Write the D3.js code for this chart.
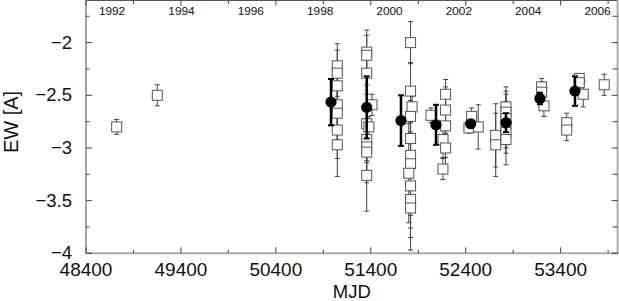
<!DOCTYPE html>
<html>
<head>
<meta charset="utf-8">
<script src="https://cdn.jsdelivr.net/npm/d3@7"></script>
<style>
  html, body { margin: 0; padding: 0; background: #fff; }
  svg { display: block; font-family: "Liberation Sans", Arial, Helvetica, sans-serif; }
</style>
</head>
<body>
<svg id="chart" width="619" height="301"></svg>
<script>
// ---- data ----
// individual measurements (open squares): MJD, EW, error
const sqMJD = [48723, 49151,
  51047, 51047, 51047, 51047, 51047, 51047, 51047,
  51357, 51357, 51357, 51413, 51357, 51380, 51357, 51357, 51357, 51357,
  51819, 51819, 51835, 51819, 51819, 51819, 51819, 51800, 51819, 51819, 51819,
  52034,
  52188, 52188, 52188, 52161, 52188, 52160,
  52462, 52434, 52532,
  52716, 52716,
  52824, 52824, 52824, 52824, 52824, 52824,
  53200, 53200, 53224,
  53464, 53464,
  53596, 53596, 53638,
  53859];
const sqEW = [-2.80, -2.50,
  -2.22, -2.29, -2.41, -2.59, -2.67, -2.83, -2.97,
  -2.09, -2.12, -2.29, -2.59, -2.77, -2.80, -2.92, -2.99, -3.04, -3.26,
  -2.00, -2.46, -2.61, -2.70, -2.91, -3.07, -3.15, -3.24, -3.36, -3.49, -3.57,
  -2.69,
  -2.49, -2.64, -2.79, -2.92, -3.00, -3.20,
  -2.70, -2.81, -2.80,
  -2.88, -2.97,
  -2.61, -2.66, -2.72, -2.78, -2.85, -2.92,
  -2.42, -2.47, -2.60,
  -2.76, -2.83,
  -2.34, -2.38, -2.49,
  -2.40];
const sqErr = [0.07, 0.10,
  0.21, 0.22, 0.15, 0.20, 0.25, 0.27, 0.30,
  0.21, 0.19, 0.20, 0.10, 0.37, 0.10, 0.20, 0.34, 0.20, 0.34,
  0.20, 0.27, 0.10, 0.15, 0.15, 0.20, 0.49, 0.47, 0.40, 0.36, 0.40,
  0.07,
  0.14, 0.22, 0.30, 0.17, 0.20, 0.10,
  0.08, 0.05, 0.21,
  0.30, 0.30,
  0.19, 0.20, 0.23, 0.22, 0.20, 0.24,
  0.08, 0.10, 0.10,
  0.09, 0.10,
  0.04, 0.05, 0.12,
  0.10];

// seasonal means (filled circles): MJD, EW, error
const meanMJD = [50981, 51357, 51718, 52087, 52452, 52824, 53182, 53551];
const meanEW  = [-2.565, -2.615, -2.74, -2.78, -2.77, -2.76, -2.53, -2.46];
const meanErr = [0.22, 0.295, 0.24, 0.19, 0.02, 0.09, 0.055, 0.14];

// axis ticks
const xMajorTicks = [48400, 49400, 50400, 51400, 52400, 53400];
const xMinorTicks = [48900, 49900, 50900, 51900, 52900, 53900];
const yMajorTicks = [-4, -3.5, -3, -2.5, -2];
const yMinorTicks = [-3.75, -3.25, -2.75, -2.25, -1.75];
const yearLabels = ["1992", "1994", "1996", "1998", "2000", "2002", "2004", "2006"];
const yearMJD    = [48622, 49353, 50083, 50814, 51544, 52275, 53005, 53736];

// ---- layout ----
const L = 86, R = 617.6, T = 0.5, B = 253.3;
const svg = d3.select("#chart");
const x = d3.scaleLinear().domain([48400, 54000]).range([L, R]);
const y = d3.scaleLinear().domain([-4, -1.6]).range([B, T]);

const fmt = v => String(v).replace("-", "\u2212");

// frame
svg.append("line").attr("x1", L).attr("x2", L).attr("y1", T).attr("y2", B).attr("stroke", "#444").attr("stroke-width", 1);
svg.append("line").attr("x1", L).attr("x2", R).attr("y1", T).attr("y2", T).attr("stroke", "#555").attr("stroke-width", 1);
svg.append("line").attr("x1", L).attr("x2", R + 1).attr("y1", B).attr("y2", B).attr("stroke", "#aaa").attr("stroke-width", 2);
svg.append("line").attr("x1", R).attr("x2", R).attr("y1", T).attr("y2", B).attr("stroke", "#aaa").attr("stroke-width", 2);

// ticks
const tk = svg.append("g").attr("stroke", "#444").attr("stroke-width", 1);
xMajorTicks.forEach(v => {
  tk.append("line").attr("x1", x(v)).attr("x2", x(v)).attr("y1", B).attr("y2", B - 6);
  tk.append("line").attr("x1", x(v)).attr("x2", x(v)).attr("y1", T).attr("y2", T + 5);
});
xMinorTicks.forEach(v => {
  tk.append("line").attr("x1", x(v)).attr("x2", x(v)).attr("y1", B).attr("y2", B - 3.5);
  tk.append("line").attr("x1", x(v)).attr("x2", x(v)).attr("y1", T).attr("y2", T + 3.5);
});
yMajorTicks.forEach(v => {
  tk.append("line").attr("x1", L).attr("x2", L + 6).attr("y1", y(v)).attr("y2", y(v));
  tk.append("line").attr("x1", R).attr("x2", R - 6).attr("y1", y(v)).attr("y2", y(v));
});
yMinorTicks.forEach(v => {
  tk.append("line").attr("x1", L).attr("x2", L + 3.5).attr("y1", y(v)).attr("y2", y(v));
  tk.append("line").attr("x1", R).attr("x2", R - 5).attr("y1", y(v)).attr("y2", y(v));
});

// tick labels
svg.append("g").selectAll("text").data(xMajorTicks).join("text")
  .attr("x", d => x(d)).attr("y", 276).attr("text-anchor", "middle")
  .attr("font-size", 19).attr("fill", "#111").text(d => d);
svg.append("g").selectAll("text").data(yMajorTicks).join("text")
  .attr("x", 72).attr("y", d => y(d)).attr("dy", "0.33em").attr("text-anchor", "end")
  .attr("font-size", 18.5).attr("fill", "#111").text(d => fmt(d));
svg.append("g").selectAll("text").data(yearLabels).join("text")
  .attr("x", (d, i) => x(yearMJD[i]) + 5).attr("y", 15).attr("text-anchor", "middle")
  .attr("font-size", 11.8).attr("fill", "#111").text(d => d);

// axis titles
svg.append("text").attr("x", (L + R) / 2).attr("y", 298).attr("text-anchor", "middle")
  .attr("font-size", 18.5).attr("fill", "#111").text("MJD");
svg.append("text").attr("transform", "translate(18,122) rotate(-90)").attr("text-anchor", "middle")
  .attr("font-size", 20).attr("fill", "#111").text("EW [A]");

// individual measurements
const sq = sqMJD.map((m, i) => ({m, e: sqEW[i], s: sqErr[i]}));
const eb = svg.append("g").attr("stroke", "#444").attr("stroke-width", 1);
sq.forEach(d => {
  const cx = x(d.m);
  eb.append("line").attr("x1", cx).attr("x2", cx).attr("y1", y(d.e + d.s)).attr("y2", y(d.e - d.s));
  eb.append("line").attr("x1", cx - 2.5).attr("x2", cx + 2.5).attr("y1", y(d.e + d.s)).attr("y2", y(d.e + d.s));
  eb.append("line").attr("x1", cx - 2.5).attr("x2", cx + 2.5).attr("y1", y(d.e - d.s)).attr("y2", y(d.e - d.s));
});
svg.append("g").selectAll("rect").data(sq).join("rect")
  .attr("x", d => x(d.m) - 5).attr("y", d => y(d.e) - 5)
  .attr("width", 10).attr("height", 10)
  .attr("fill", "#fff").attr("stroke", "#555").attr("stroke-width", 1);

// seasonal means
const mn = meanMJD.map((m, i) => ({m, e: meanEW[i], s: meanErr[i]}));
const mb = svg.append("g").attr("stroke", "#000");
mn.forEach(d => {
  const cx = x(d.m);
  mb.append("line").attr("x1", cx).attr("x2", cx).attr("y1", y(d.e + d.s)).attr("y2", y(d.e - d.s)).attr("stroke-width", 2.5);
  mb.append("line").attr("x1", cx - 3).attr("x2", cx + 3).attr("y1", y(d.e + d.s)).attr("y2", y(d.e + d.s)).attr("stroke-width", 2);
  mb.append("line").attr("x1", cx - 3).attr("x2", cx + 3).attr("y1", y(d.e - d.s)).attr("y2", y(d.e - d.s)).attr("stroke-width", 2);
});
svg.append("g").selectAll("circle").data(mn).join("circle")
  .attr("cx", d => x(d.m)).attr("cy", d => y(d.e)).attr("r", 5.6).attr("fill", "#000");
</script>
</body>
</html>
